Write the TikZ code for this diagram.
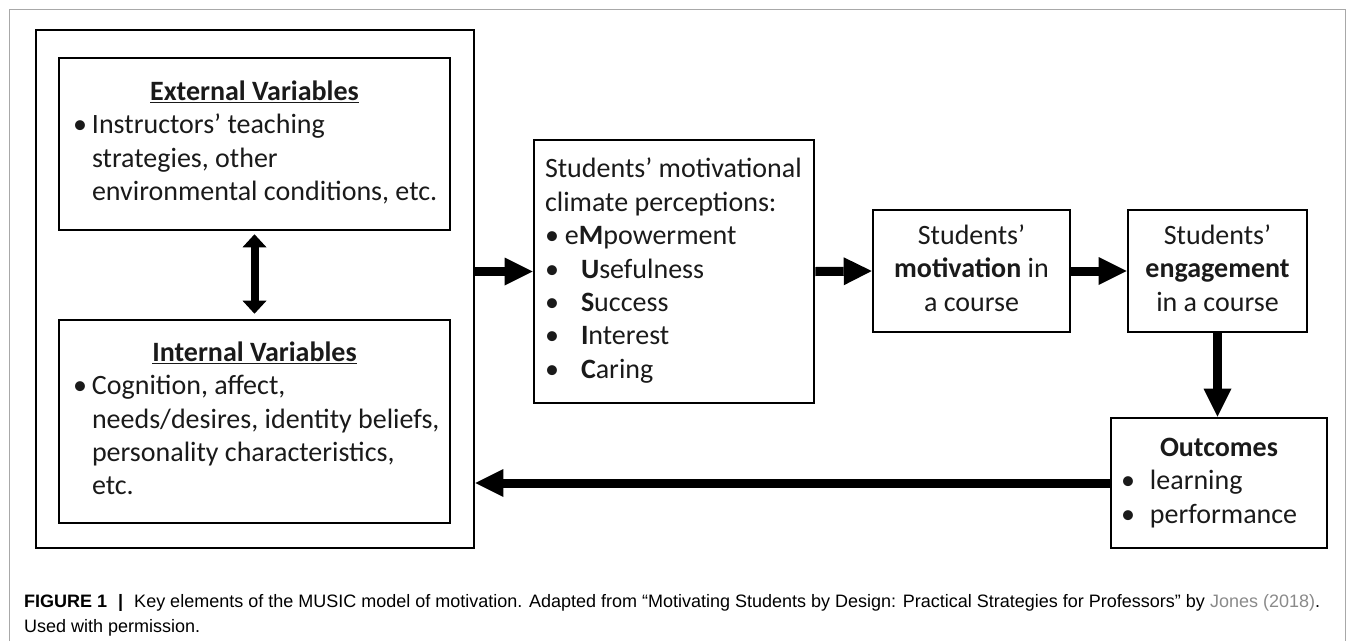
\documentclass[tikz,border=0pt]{standalone}
\usepackage{fontspec}
\setmainfont{Carlito}
\newfontfamily\capfont{Liberation Sans}
\usetikzlibrary{arrows.meta}
\definecolor{framegray}{HTML}{A8A8A8}
\definecolor{refgray}{HTML}{8A8A8A}
\definecolor{inkgray}{HTML}{1A1A1A}
\newcommand{\boxtab}[2]{\begin{tabular}{@{}p{#1}@{}}#2\end{tabular}}
\newcommand{\boxtitle}[1]{\multicolumn{1}{@{}c@{}}{#1}}
\newcommand{\blt}[1]{\makebox[#1][l]{•}}
\tikzset{
  box/.style={draw=black, text=inkgray, line width=2.6pt, inner sep=0pt, font=\fontsize{28}{33.4}\selectfont},
  arr/.style={line width=9pt, -{Triangle[length=28pt,width=28pt,line width=0pt]}},
  darr/.style={line width=8pt, {Triangle[length=13pt,width=24pt,line width=0pt]}-{Triangle[length=13pt,width=24pt,line width=0pt]}},
  capt/.style={anchor=base west, inner sep=0pt, font=\capfont\fontsize{18}{22}\selectfont},
  frame/.style={draw=framegray, line width=1pt}
}
\begin{document}
\begin{tikzpicture}[x=1pt,y=-1pt]
\useasboundingbox (0,0) rectangle (1355,641);
% outer figure frame
\draw[frame] (9,641) -- (9,9) -- (1345,9) -- (1345,641);
% big box
\node[box, minimum width=438pt, minimum height=518pt] (big) at (255,289) {};
% external variables
\node[box, minimum width=391pt, minimum height=172pt] (ext) at (254.5,144) {\boxtab{363pt}{%
  \boxtitle{\textbf{\underline{External Variables}}}\\
  \mbox{\blt{19pt}Instructors’ teaching}\\
  \mbox{\hspace*{19pt}strategies, other}\\
  \mbox{\hspace*{19pt}environmental conditions, etc.}}};
% internal variables
\node[box, minimum width=391pt, minimum height=203pt] (int) at (254.5,421.5) {\boxtab{363pt}{%
  \boxtitle{\textbf{\underline{Internal Variables}}}\\
  \mbox{\blt{19pt}Cognition, affect,}\\
  \mbox{\hspace*{19pt}needs/desires, identity beliefs,}\\
  \mbox{\hspace*{19pt}personality characteristics,}\\
  \mbox{\hspace*{19pt}etc.}}};
% climate perceptions
\node[box, minimum width=280pt, minimum height=263pt] (clim) at (674,271.5) {\boxtab{258pt}{%
  \mbox{Students’ motivational}\\
  \mbox{climate perceptions:}\\
  \mbox{\blt{20pt}e\textbf{M}powerment}\\
  \mbox{\blt{36pt}\textbf{U}sefulness}\\
  \mbox{\blt{36pt}\textbf{S}uccess}\\
  \mbox{\blt{36pt}\textbf{I}nterest}\\
  \mbox{\blt{36pt}\textbf{C}aring}}};
% motivation
\node[box, minimum width=197pt, minimum height=122pt] (mot) at (971.5,271) {\begin{tabular}{@{}c@{}}Students’\\ \textbf{motivation} in\\ a course\end{tabular}};
% engagement
\node[box, minimum width=179pt, minimum height=122pt] (eng) at (1217.5,271) {\begin{tabular}{@{}c@{}}Students’\\ \textbf{engagement}\\ in a course\end{tabular}};
% outcomes
\node[box, minimum width=216pt, minimum height=130pt] (out) at (1219,483) {\boxtab{190pt}{%
  \boxtitle{\textbf{Outcomes}}\\
  \mbox{\hspace*{-3pt}\blt{29pt}learning}\\
  \mbox{\hspace*{-3pt}\blt{29pt}performance}}};
% connectors
\draw[darr, shorten <=3pt, shorten >=5pt] (ext.south) -- (int.north);
\draw[arr] (clim.west -| big.east) -- (clim.west);
\draw[arr] (clim.east) -- (mot.west);
\draw[arr] (mot.east) -- (eng.west);
\draw[arr] (eng.south) -- (eng.south |- out.north);
\draw[arr] (out.west) -- (out.west -| big.east);
% caption
\node[capt] (cap1) at (24,607) {\textbf{FIGURE 1}\hspace{11pt}\textbf{|}\hspace{11pt}Key elements of the MUSIC model of motivation. Adapted from “Motivating Students by Design: Practical Strategies for Professors” by \textcolor{refgray}{Jones (2018)}.};
\node[capt] (cap2) at (24,632) {Used with permission.};
\end{tikzpicture}
\end{document}
